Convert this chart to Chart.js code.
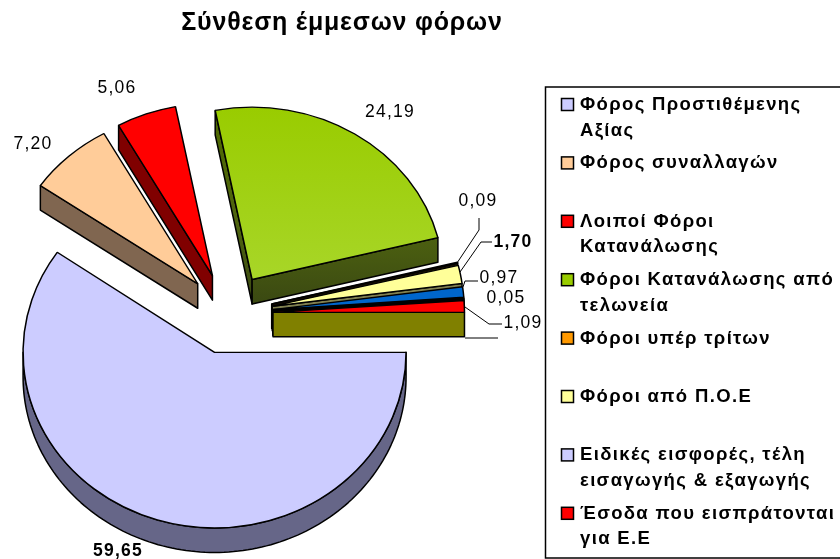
<!DOCTYPE html>
<html>
<head>
<meta charset="utf-8">
<style>
  html, body { margin: 0; padding: 0; background: #fff; }
  canvas { display: block; }
</style>
<script src="https://cdn.jsdelivr.net/npm/chart.js@4"></script>
</head>
<body>
<canvas id="pie" width="840" height="559"></canvas>
<script>
const categories = [
  ['Φόρος Προστιθέμενης', 'Αξίας'],
  ['Φόρος συναλλαγών'],
  ['Λοιποί Φόροι', 'Κατανάλωσης'],
  ['Φόροι Κατανάλωσης από', 'τελωνεία'],
  ['Φόροι υπέρ τρίτων'],
  ['Φόροι από Π.Ο.Ε'],
  ['Ειδικές εισφορές, τέλη', 'εισαγωγής & εξαγωγής'],
  ['Έσοδα που εισπράτονται', 'για Ε.Ε'],
  ['Λοιπά']
];
const values = [59.65, 7.20, 5.06, 24.19, 0.09, 1.70, 0.97, 0.05, 1.09];
const topColors = ['#ccccff', '#ffcc99', '#ff0000', '#a2d21c', '#ff9900', '#ffff99', '#0066cc', '#000000', '#ff0000'];
const sideColors = ['#666688', '#806650', '#800000', '#4a5f08', '#1a1000', '#808050', '#003366', '#000000', '#808000'];
const legendColors = ['#ccccff', '#ffcc99', '#ff0000', '#99cc00', '#ff9900', '#ffff99', '#ccccff', '#ff0000'];

// label text placement, same order as values
const labelSpots = [
  { x: 118, y: 551, bold: true },
  { x: 33, y: 144 },
  { x: 117, y: 88 },
  { x: 390, y: 112 },
  { x: 478, y: 201 },
  { x: 513, y: 242, bold: true },
  { x: 499, y: 278 },
  { x: 506, y: 298 },
  { x: 523, y: 323 }
];
const leaders = [
  [[479, 218], [479, 230], [457, 263]],
  [[492, 242], [481, 242], [460, 272]],
  [[478, 281], [465, 281], [463, 287]],
  [[465, 338], [498, 338]],
  [[502, 324], [489, 324], [465, 307]]
];

const center = { x: 228, y: 313.7 };
const explodeX = 45;
const explodeY = 40.5;
const depth = 24.5;
// back slices first so the front ones sit over them
const drawOrder = [2, 3, 4, 5, 6, 7, 8, 1, 0];

function drawSlice(ctx, arc, i) {
  const { x, y, startAngle, endAngle, outerRadius: r } = arc.getProps(['x', 'y', 'startAngle', 'endAngle', 'outerRadius']);
  const mid = (startAngle + endAngle) / 2;
  // the front of the pie is a bit taller than the back, like the perspective in the original
  const tilt = Math.sin(mid) > 0 ? 0.917 : 0.9;
  const ax = center.x + Math.cos(mid) * explodeX;
  const ay = center.y + Math.sin(mid) * explodeY;
  const pt = a => [ax + Math.cos(a) * r, ay + Math.sin(a) * r * tilt];

  ctx.save();
  ctx.lineJoin = 'round';
  ctx.lineWidth = 1.5;
  ctx.strokeStyle = '#000';
  if (i === 3) {
    const g = ctx.createLinearGradient(0, 110, 0, 305);
    g.addColorStop(0, '#4f6a00');
    g.addColorStop(0.6, '#4f6410');
    g.addColorStop(1, '#3a4812');
    ctx.fillStyle = g;
  } else {
    ctx.fillStyle = sideColors[i];
  }

  // radial walls, only those that face the viewer
  const walls = [];
  if (Math.cos(startAngle) < 0) walls.push(startAngle);
  if (Math.cos(endAngle) > 0) walls.push(endAngle);
  walls.forEach(a => {
    const p = pt(a);
    ctx.beginPath();
    ctx.moveTo(ax, ay);
    ctx.lineTo(p[0], p[1]);
    ctx.lineTo(p[0], p[1] + depth);
    ctx.lineTo(ax, ay + depth);
    ctx.closePath();
    ctx.fill();
    ctx.stroke();
  });

  // outer rim, lower half of the ellipse only
  const from = Math.max(startAngle, 0);
  const to = Math.min(endAngle, Math.PI);
  if (to > from) {
    const steps = Math.ceil((to - from) * 40);
    ctx.beginPath();
    for (let s = 0; s <= steps; s++) {
      const p = pt(from + (to - from) * s / steps);
      if (s === 0) ctx.moveTo(p[0], p[1]); else ctx.lineTo(p[0], p[1]);
    }
    for (let s = steps; s >= 0; s--) {
      const p = pt(from + (to - from) * s / steps);
      ctx.lineTo(p[0], p[1] + depth);
    }
    ctx.closePath();
    ctx.fill();
    ctx.stroke();
  }

  // top face, the library's own arc inside a squashed transform
  ctx.translate(ax, ay);
  ctx.scale(1, tilt);
  ctx.translate(-x, -y);
  arc.draw(ctx);
  ctx.restore();
}

const pie3d = {
  id: 'pie3d',
  beforeDraw(chart) {
    // the title goes out through the library, so space it here
    chart.ctx.letterSpacing = '0.8px';
  },
  beforeDatasetDraw(chart) {
    const ctx = chart.ctx;
    ctx.letterSpacing = '0px';
    const arcs = chart.getDatasetMeta(0).data;
    drawOrder.forEach(i => drawSlice(ctx, arcs[i], i));
    return false;
  },
  afterDraw(chart) {
    const ctx = chart.ctx;
    ctx.save();

    // value labels
    ctx.fillStyle = '#000';
    ctx.textAlign = 'center';
    ctx.textBaseline = 'middle';
    ctx.letterSpacing = '1.2px';
    values.forEach((v, i) => {
      const s = labelSpots[i];
      ctx.font = (s.bold ? 'bold ' : '') + '17.5px "Liberation Sans"';
      ctx.fillText(v.toFixed(2).replace('.', ','), s.x, s.y);
    });

    // leader lines
    ctx.strokeStyle = '#000';
    ctx.lineWidth = 1;
    leaders.forEach(line => {
      ctx.beginPath();
      line.forEach((p, j) => j ? ctx.lineTo(p[0], p[1]) : ctx.moveTo(p[0], p[1]));
      ctx.stroke();
    });

    // legend box
    ctx.lineWidth = 1.5;
    ctx.strokeRect(545.5, 87, 300, 471);
    ctx.textAlign = 'left';
    ctx.font = 'bold 18.5px "Liberation Sans"';
    ctx.letterSpacing = '1.35px';
    legendColors.forEach((c, i) => {
      const rowY = 105 + i * 58.4;
      ctx.fillStyle = c;
      ctx.fillRect(561.5, rowY - 6.5, 12, 12);
      ctx.strokeRect(561.5, rowY - 6.5, 12, 12);
      ctx.fillStyle = '#000';
      categories[i].forEach((t, j) => ctx.fillText(t, 580, rowY + j * 25.5));
    });
    ctx.restore();
  }
};

new Chart(document.getElementById('pie'), {
  type: 'pie',
  data: {
    labels: categories,
    datasets: [{
      data: values,
      backgroundColor(c) {
        if (c.dataIndex !== 3 || !c.chart.chartArea) return topColors[c.dataIndex];
        // green slice gets lighter towards its point
        const midY = (c.chart.chartArea.top + c.chart.chartArea.bottom) / 2;
        const g = c.chart.ctx.createLinearGradient(0, midY - 191.5, 0, midY);
        g.addColorStop(0, '#99cc00');
        g.addColorStop(1, '#a8d628');
        return g;
      },
      borderColor: '#000',
      borderWidth: 1.5,
      radius: 191.5
    }]
  },
  options: {
    responsive: false,
    animation: false,
    rotation: 90,
    layout: { padding: { right: 156 } },
    plugins: {
      legend: { display: false },
      tooltip: { enabled: false },
      title: {
        display: true,
        text: 'Σύνθεση έμμεσων φόρων',
        color: '#000',
        font: { family: 'Liberation Sans', size: 25, weight: 'bold' },
        padding: { top: 8, bottom: 10 }
      }
    }
  },
  plugins: [pie3d]
});
</script>
</body>
</html>
